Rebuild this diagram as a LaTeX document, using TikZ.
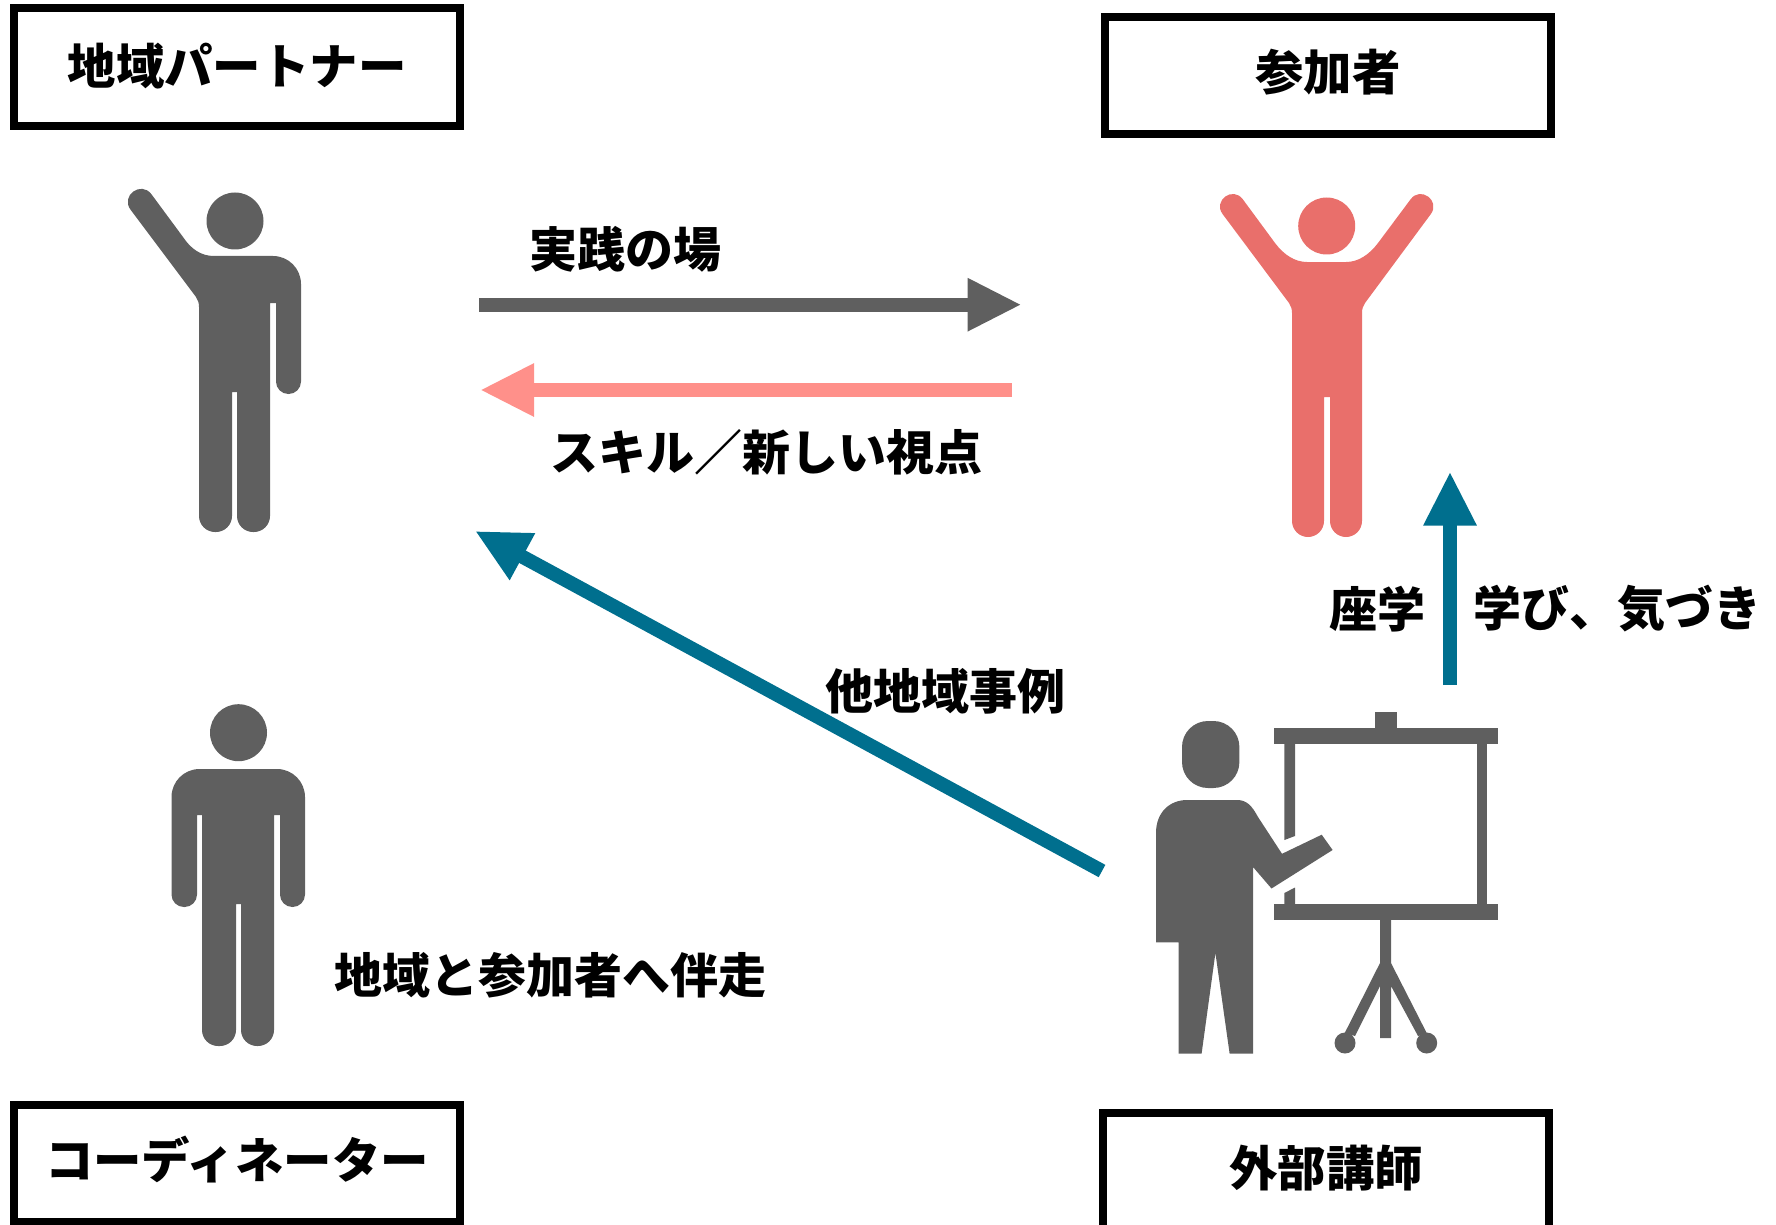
\documentclass[tikz,border=0pt]{standalone}
\usepackage{fontspec}
\setmainfont{Noto Sans CJK JP}
\usetikzlibrary{arrows.meta,positioning}
\definecolor{figgray}{HTML}{5F5F5F}
\definecolor{figred}{HTML}{E96F6B}
\definecolor{linkpink}{HTML}{FF908A}
\definecolor{linkblue}{HTML}{006F8E}
\tikzset{
  box/.style={rectangle, draw=black, line width=4pt, minimum width=223pt, minimum height=58.5pt, inner sep=0pt, text height=20pt, text depth=5pt, font=\fontsize{24.2pt}{28pt}\selectfont\bfseries},
  caption/.style={inner sep=0pt, font=\fontsize{24pt}{28pt}\selectfont\bfseries},
  connect/.style={line width=7pt, -{Triangle[length=27pt, width=24.7pt]}},
  person/.style={fill=figgray}
}

\begin{document}
\begin{tikzpicture}[x=0.5pt,y=-0.5pt]
  \useasboundingbox (0,0) rectangle (1776,1225);

  % role boxes
  \node[box,minimum height=59pt,text depth=3pt] (Partner) at (237,67.5) {地域パートナー};
  \node[box] (Participant) at (1328,76) {参加者};
  \node[box,text depth=4.5pt] (Coordinator) at (237,1163) {コーディネーター};
  \node[box] (Lecturer) at (1326,1171.5) {外部講師};

  % partner, waving
  \fill[person] (235,221) circle (28.5);
  \fill[person] (151.4,194.2) -- (183,237) .. controls (191,249) and (201,256) .. (214,256)
    [rounded corners=14pt] -- (301,256) [sharp corners] [rounded corners=6.2pt] -- (301,394) -- (276,394)
    [sharp corners] -- (276,303) -- (270,303) [rounded corners=8pt] -- (270,532) -- (237,532)
    [sharp corners] -- (237,392) -- (232,392) [rounded corners=8pt] -- (232,532) -- (199,532)
    [sharp corners] -- (199,307) .. controls (199,303) and (198,300) .. (196,297)
    -- (130.6,209.8) .. controls (120.2,195.9) and (141,180.4) .. (151.4,194.2) -- cycle;

  % participant, both arms up
  \fill[figred] (1326.7,226) circle (28.5);
  \fill[figred] (1242.8,199.3) -- (1275,243) .. controls (1284,255) and (1295,262) .. (1307,262)
    -- (1346,262) .. controls (1358,262) and (1369,255) .. (1378,243) -- (1410.6,199.3)
    .. controls (1420.5,185.8) and (1440.7,200.6) .. (1430.8,214.1) -- (1365,303)
    .. controls (1363,306) and (1362,309) .. (1362,313) [rounded corners=8pt] -- (1362,537) -- (1330,537)
    [sharp corners] -- (1330,397) -- (1324,397) [rounded corners=8pt] -- (1324,537) -- (1292,537)
    [sharp corners] -- (1292,313) .. controls (1292,309) and (1291,306) .. (1289,303)
    -- (1222.6,214.1) .. controls (1212.7,200.6) and (1232.9,185.8) .. (1242.8,199.3) -- cycle;

  % coordinator, standing
  \fill[person] (238.5,732.7) circle (28.5);
  \fill[person] (171.5,907) [rounded corners=14pt] -- (171.5,769) -- (305,769) [sharp corners] [rounded corners=6.2pt] -- (305,907) -- (280,907)
    [sharp corners] -- (280,815) -- (274,815) [rounded corners=8pt] -- (274,1046) -- (241,1046)
    [sharp corners] -- (241,904) -- (236,904) [rounded corners=8pt] -- (236,1046) -- (202,1046)
    [sharp corners] -- (202,815) -- (197,815) [rounded corners=6.2pt] -- (197,907) -- cycle;

  % lecturer and screen
  \fill[person] (1210.7,754.5) [rounded corners=13pt] +(-28.7,-33.5) rectangle +(28.7,33.5);
  \fill[person] (1156,942.4) -- (1156,833) .. controls (1156,812) and (1170,800) .. (1187,800) -- (1237,800)
    .. controls (1247,800) and (1252,806) .. (1258,817) -- (1282,853.8) -- (1321.7,834.7) -- (1332.6,850)
    -- (1271.5,888.5) -- (1253,867) -- (1253,1053.6) -- (1229.6,1053.6) -- (1215.4,953) -- (1201.6,1053.6)
    -- (1178.6,1053.6) -- (1178.6,942.4) -- cycle;
  \fill[person] (1375,712) rectangle (1396.6,728);
  \fill[person] (1273.6,728) rectangle (1498,744.3);
  \fill[person] (1273.6,904) rectangle (1498,920);
  \fill[person] (1284.4,744) -- (1295,744) -- (1295,836) -- (1284.4,840) -- cycle;
  \fill[person] (1284.4,893) -- (1295,887.5) -- (1295,904) -- (1284.4,904) -- cycle;
  \fill[person] (1476.5,744) rectangle (1487.4,904);
  \fill[person] (1380,920) -- (1391,920) -- (1391,963) -- (1426.7,1033) -- (1418,1036) -- (1391,986)
    -- (1391,1038) -- (1380,1038) -- (1380,986) -- (1355,1036) -- (1344.7,1033) -- (1380,963) -- cycle;
  \fill[person] (1345,1043) circle (10.5);
  \fill[person] (1426.7,1043) circle (10.5);

  % arrow ends
  \coordinate (PartnerOut) at (479,304.7);
  \coordinate (ParticipantIn) at (1021.6,304.7);
  \coordinate (ParticipantOut) at (1011.5,390);
  \coordinate (PartnerIn) at (480,390);
  \coordinate (LecturerOut) at (1102,871);
  \coordinate (PartnerLow) at (475,531);
  \coordinate (LecturerUp) at (1450,685);
  \coordinate (ParticipantLow) at (1450,471.5);

  \draw[connect, figgray] (PartnerOut) -- (ParticipantIn);
  \draw[connect, linkpink] (ParticipantOut) -- (PartnerIn);
  \draw[connect, linkblue] (LecturerOut) -- (PartnerLow);
  \draw[connect, linkblue] (LecturerUp) -- (ParticipantLow);

  % labels
  \node[caption] (Practice) at (625,249) {実践の場};
  \node[caption] (Skills) at (766,452) {スキル／新しい視点};
  \node[caption] (Cases) at (945,691) {他地域事例};
  \node[caption] (Lecture) at (1377,609) {座学};
  \node[caption] (Learning) at (1617,609) {学び、気づき};
  \node[caption] (Support) at (550,975) {地域と参加者へ伴走};
\end{tikzpicture}
\end{document}
